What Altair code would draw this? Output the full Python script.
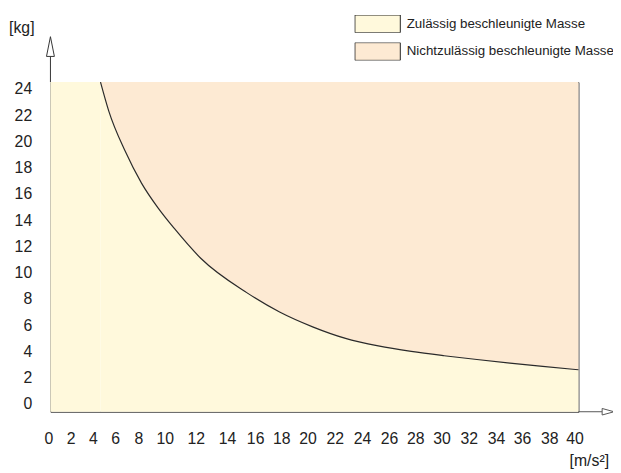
import json
import altair as alt
import pandas as pd

# ---- data ----
accel = [3.82, 4.44, 5.70, 6.95, 8.21, 9.47, 11.47, 14.98, 17.49, 20.01,
         22.52, 25.02, 27.54, 30.05, 32.55, 35.07, 37.57, 40.3]
mass = [24.53, 22.36, 19.27, 16.83, 14.94, 13.35, 11.1, 8.48, 7.0, 5.87,
        4.99, 4.42, 4.0, 3.67, 3.38, 3.11, 2.86, 2.6]
zones = ["Zulässig beschleunigte Masse", "Nichtzulässig beschleunigte Masse"]
colors = ["#FFF9DC", "#FDEAD3"]
x_ticks = list(range(0, 41, 2))
y_ticks = list(range(0, 25, 2))
X_MIN, X_MAX = 0, 40.3
Y_MIN, Y_MAX = -0.6, 24.53

# label offsets of the reference's (irregular) x tick labels
x_label_shift = [-2, -6, -10, -14, -17, -17, -12, -7, -5, -5, -5, -4, -3, -2, -2, -2, -1, 0, 0, 1, 0]

FONT = "Liberation Sans, Arial, sans-serif"
W, H = 535, 334

rows = []
# left part: permitted area up to the top of the chart
for a in [X_MIN, accel[0]]:
    rows.append({"a": a, "lo": Y_MIN, "hi": Y_MAX, "zone": zones[0], "seg": "left"})
for a, m in zip(accel, mass):
    rows.append({"a": a, "lo": Y_MIN, "hi": m, "zone": zones[0], "seg": "curve"})
    rows.append({"a": a, "lo": m, "hi": Y_MAX, "zone": zones[1], "seg": "curve"})
df = pd.DataFrame(rows)
curve = pd.DataFrame({"a": accel, "m": mass})

xscale = alt.Scale(domain=[X_MIN, X_MAX], nice=False, zero=False)
yscale = alt.Scale(domain=[Y_MIN, Y_MAX], nice=False, zero=False)

xaxis = alt.Axis(values=x_ticks, tickCount=100, format="d", title=None, domain=False,
                 ticks=False, grid=False,
                 labelFont=FONT, labelFontSize=16, labelColor="#222", labelPadding=19,
                 labelFlush=False, labelOverlap=False,
                 labelOffset={"expr": json.dumps(x_label_shift) + "[round(datum.value/2)]"})
yaxis = alt.Axis(values=y_ticks, tickCount=100, format="d", title=None, domain=False,
                 ticks=False, grid=False,
                 labelFont=FONT, labelFontSize=16, labelColor="#222", labelPadding=19,
                 labelOverlap=False, labelFlush=False)

area = alt.Chart(df).mark_area(interpolate="monotone", opacity=1).encode(
    x=alt.X("a:Q", scale=xscale, axis=xaxis),
    y=alt.Y("lo:Q", scale=yscale, axis=yaxis),
    y2="hi:Q",
    color=alt.Color("zone:N", sort=zones,
                    scale=alt.Scale(domain=zones, range=colors),
                    legend=alt.Legend(title=None, orient="none", legendX=308, legendY=-68,
                                      symbolType="M-1,-0.39H1V0.39H-1Z", symbolSize=2116,
                                      symbolStrokeColor="#222", symbolStrokeWidth=1,
                                      symbolOpacity=1, labelFont=FONT, labelFontSize=13.5,
                                      labelColor="#222", labelOffset=6, rowPadding=10,
                                      clipHeight=18, padding=0, labelLimit=400)),
    detail="seg:N",
)

line = alt.Chart(curve).mark_line(interpolate="monotone", color="#2a2a2a", strokeWidth=1.2).encode(
    x=alt.X("a:Q", scale=xscale), y=alt.Y("m:Q", scale=yscale))

one = alt.Data(values=[{"k": 1}])
y_ext = alt.Chart(one).mark_rule(color="#333", strokeWidth=1).encode(
    x=alt.value(0), y=alt.value(0), y2=alt.value(-26))
y_head = alt.Chart(one).mark_point(shape="M0,-1L0.4,1L-0.4,1Z", size=400, filled=True,
                                   fill="white", stroke="#333", strokeWidth=1, opacity=1).encode(
    x=alt.value(0), y=alt.value(-36))
x_ext = alt.Chart(one).mark_rule(color="#555", strokeWidth=1).encode(
    x=alt.value(W), x2=alt.value(W + 24), y=alt.value(H))
x_head = alt.Chart(one).mark_point(shape="M1,0L-1,-0.55L-1,0.55Z", size=144, filled=True,
                                   fill="white", stroke="#555", strokeWidth=1, opacity=1).encode(
    x=alt.value(W + 30), y=alt.value(H))

kg = alt.Chart(one).mark_text(text="[kg]", font=FONT, fontSize=16, color="#222",
                              align="center", baseline="middle").encode(
    x=alt.value(-29), y=alt.value(-55))
ms = alt.Chart(one).mark_text(text="[m/s²]", font=FONT, fontSize=16, color="#222",
                              align="center", baseline="middle").encode(
    x=alt.value(546), y=alt.value(384))

chart = alt.layer(area, line, y_ext, y_head, x_ext, x_head, kg, ms).properties(
    width=W, height=H,
    autosize=alt.AutoSizeParams(type="none"),
    padding={"left": 43, "top": 72, "right": 35, "bottom": 59},
).configure_view(stroke="#333", strokeWidth=1).configure_axis(labelOverlap=False)

chart.save("out.html", embed_options={"renderer": "svg", "actions": False})
